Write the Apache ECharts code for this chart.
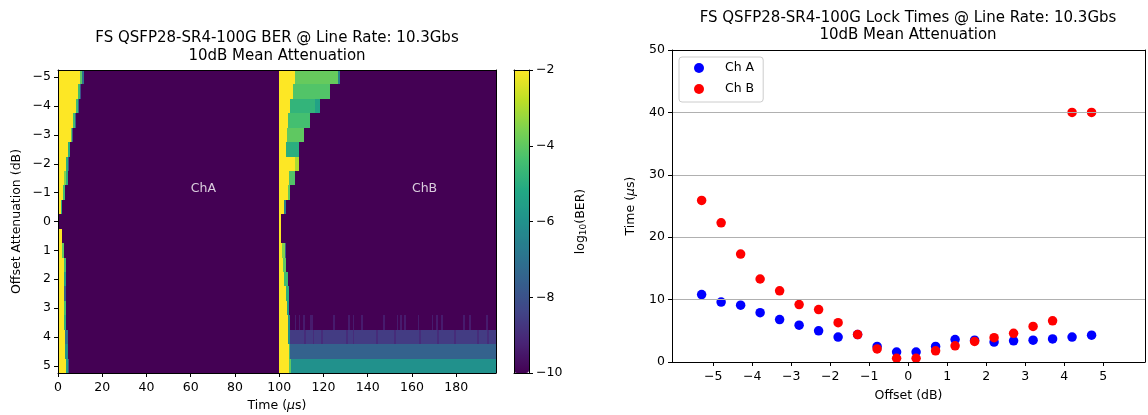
<!DOCTYPE html>
<html>
<head>
<meta charset="utf-8">
<script src="https://cdn.jsdelivr.net/npm/echarts@6/dist/echarts.min.js"></script>
<style>
  html, body { margin: 0; padding: 0; background: #fff; }
  #chart { width: 1148px; height: 415px; }
</style>
</head>
<body>
<div id="chart"></div>
<script>
// rows of the BER map (offset attenuation, dB)
const offsets = [-5, -4.5, -4, -3.5, -3, -2.5, -2, -1.5, -1, -0.5, 0, 0.5, 1, 1.5, 2, 2.5, 3, 3.5, 4, 4.5, 5]
const offsetTicks = [-5, -4, -3, -2, -1, 0, 1, 2, 3, 4, 5]
const timeTicks = [0, 20, 40, 60, 80, 100, 120, 140, 160, 180]

// ChA runs per row, starting at t=0: [end time (us), log10(BER)]
const chARuns = [
  [[9.8, -2], [10.7, -4], [11.6, -7], [100, -10]],
  [[8.9, -2], [9.8, -4.5], [10.5, -8], [100, -10]],
  [[8.0, -2], [8.9, -4.5], [9.5, -7.5], [100, -10]],
  [[6.9, -2], [7.7, -4.5], [8.3, -7.5], [100, -10]],
  [[5.7, -2], [6.4, -4], [6.9, -8], [100, -10]],
  [[4.7, -2], [5.6, -5], [100, -10]],
  [[3.6, -2], [4.3, -5], [4.9, -8], [100, -10]],
  [[2.5, -2], [3.4, -3.5], [4.3, -5], [100, -10]],
  [[2.1, -2], [3.2, -4.5], [100, -10]],
  [[1.3, -2], [1.9, -5], [100, -10]],
  [[0.6, -2], [100, -10]],
  [[1.6, -2], [100, -10]],
  [[1.9, -2], [2.8, -4], [100, -10]],
  [[2.5, -2], [3.7, -4.5], [100, -10]],
  [[2.5, -2], [3.5, -5.5], [100, -10]],
  [[2.5, -2], [3.6, -7.5], [100, -10]],
  [[2.5, -2], [3.6, -4.5], [100, -10]],
  [[2.8, -2], [3.6, -5], [100, -10]],
  [[3.1, -2], [4.3, -7], [100, -10]],
  [[3.3, -2], [4.3, -6], [100, -10]],
  [[3.4, -2], [4.3, -5.5], [5.1, -8], [100, -10]]
]

// ChB runs per row, starting at t=100
const chBRuns = [
  [[107.1, -2], [126.4, -3.9], [127.4, -6.5], [198, -10]],
  [[106.3, -2], [122.9, -4.2], [198, -10]],
  [[105.0, -2], [116.0, -4.8], [118.4, -5.4], [198, -10]],
  [[104.1, -2], [113.9, -4.4], [198, -10]],
  [[103.3, -2], [111.0, -4.0], [198, -10]],
  [[103.2, -2], [109.1, -5.0], [198, -10]],
  [[107.1, -2], [109.1, -3.0], [198, -10]],
  [[104.5, -2], [107.1, -4.2], [198, -10]],
  [[103.8, -2], [105.0, -4.0], [198, -10]],
  [[102.0, -2], [103.2, -6.5], [198, -10]],
  [[100.6, -2], [198, -10]],
  [[100.9, -2], [198, -10]],
  [[101.3, -2], [102.4, -3.5], [103.0, -7.5], [198, -10]],
  [[101.9, -2], [103.0, -4.0], [198, -10]],
  [[102.3, -2], [103.8, -4.5], [198, -10]],
  [[103.0, -2], [104.2, -5.0], [198, -10]],
  [[103.6, -2], [104.5, -5.5], [198, -10]],
  [[103.8, -2], [104.8, -6.0], [198, -10]],
  [[104.0, -2], [105.1, -6.0], [198, -8.6]],
  [[104.2, -2], [105.1, -4.5], [198, -7.5]],
  [[104.3, -2], [105.5, -4.0], [198, -6.0]]
]

// flicker in ChB rows 3.5 and 4: [offset, from, to, log10(BER)]
const chBFlicker = [
  [3.5, 107.1, 107.8, -9.4], [3.5, 108.8, 109.6, -9.4], [3.5, 110.9, 111.7, -9.4], [3.5, 114.0, 115.3, -9.4],
  [3.5, 124.2, 125.0, -9.4], [3.5, 131.1, 131.9, -9.4], [3.5, 133.2, 134.0, -9.4], [3.5, 137.0, 137.8, -9.4],
  [3.5, 146.8, 147.6, -9.4], [3.5, 153.1, 153.9, -9.4], [3.5, 154.6, 155.4, -9.4], [3.5, 156.6, 157.4, -9.4],
  [3.5, 162.6, 163.4, -9.4], [3.5, 168.9, 169.7, -9.4], [3.5, 170.9, 171.7, -9.4], [3.5, 173.2, 174.0, -9.4],
  [3.5, 183.0, 183.8, -9.4], [3.5, 185.7, 186.5, -9.4], [3.5, 193.6, 194.4, -9.4],
  [4, 111.4, 112.2, -9.0], [4, 115.1, 115.9, -9.0], [4, 118.9, 119.7, -9.0], [4, 130.2, 131.0, -9.0],
  [4, 133.2, 134.0, -9.0], [4, 143.8, 144.6, -9.0], [4, 152.1, 152.9, -9.0], [4, 163.2, 164.0, -9.0],
  [4, 171.5, 172.3, -9.0], [4, 179.0, 179.8, -9.0], [4, 189.5, 190.3, -9.0], [4, 194.1, 194.9, -9.0]
]
const channelLabels = [[60, -1, 'ChA'], [160, -1, 'ChB']]

// lock times
const lockOffsets = [-5.3, -4.8, -4.3, -3.8, -3.3, -2.8, -2.3, -1.8, -1.3, -0.8, -0.3, 0.2, 0.7, 1.2, 1.7, 2.2, 2.7, 3.2, 3.7, 4.2, 4.7]
const chATime = [10.8, 9.6, 9.1, 7.9, 6.8, 5.9, 5.0, 4.0, 4.4, 2.5, 1.6, 1.6, 2.5, 3.6, 3.5, 3.2, 3.4, 3.5, 3.7, 4.0, 4.3]
const chBTime = [25.9, 22.3, 17.3, 13.3, 11.4, 9.2, 8.4, 6.3, 4.4, 2.1, 0.6, 0.6, 1.8, 2.6, 3.3, 3.9, 4.6, 5.7, 6.6, 40, 40]
const lockXTicks = [-5, -4, -3, -2, -1, 0, 1, 2, 3, 4, 5]

const viridis = ['#440154', '#482475', '#414487', '#355f8d', '#2a788e', '#21918c', '#22a884', '#44bf70', '#7ad151', '#bddf26', '#fde725']
const font = 'DejaVu Sans'

function toSegments(runs, start) {
  const out = []
  runs.forEach((row, i) => {
    let x0 = start
    row.forEach(([x1, level]) => {
      out.push([offsets[i], x0, x1, level])
      x0 = x1
    })
  })
  return out
}

const minus = (v) => (v < 0 ? '\u2212' + Math.abs(v) : String(v))
const txt = { color: '#000', fontSize: 12.5, fontFamily: font }
const nameStyle = { ...txt, rich: { i: { ...txt, fontStyle: 'italic' }, s: { ...txt, fontSize: 9, verticalAlign: 'bottom', padding: [5, 0, 0, 0] } } }
const line = { show: true, onZero: false, lineStyle: { color: '#000', width: 1 } }
const tick = { show: true, length: 4, lineStyle: { color: '#000', width: 1 } }

// frame-only axis (spine)
function spine(gridIndex, position, min, max) {
  return {
    gridIndex, position, type: 'value', min, max, z: 10,
    axisLine: line, axisTick: { show: false }, axisLabel: { show: false }, splitLine: { show: false }
  }
}

// one run of a row, snapped to whole pixels so rows meet without seams
function renderCell(params, api) {
  const a = api.coord([api.value(1), api.value(0) - 0.25])
  const b = api.coord([api.value(2), api.value(0) + 0.25])
  const x0 = Math.round(a[0])
  const x1 = Math.round(b[0])
  const y0 = Math.round(Math.min(a[1], b[1]))
  const y1 = Math.round(Math.max(a[1], b[1]))
  return {
    type: 'rect',
    shape: { x: x0, y: y0, width: Math.max(x1 - x0, 1), height: y1 - y0 },
    style: { fill: api.visual('color') }
  }
}

const chart = echarts.init(document.getElementById('chart'), null, { renderer: 'canvas' })

const option = {
  animation: false,
  backgroundColor: '#fff',
  textStyle: { fontFamily: font },
  graphic: [
    { type: 'text', x: 277, y: 29, style: { text: 'FS QSFP28-SR4-100G BER @ Line Rate: 10.3Gbs\n10dB Mean Attenuation', align: 'center', verticalAlign: 'top', fontSize: 15, lineHeight: 18, fontFamily: font, fill: '#000' } },
    { type: 'text', x: 908, y: 9, style: { text: 'FS QSFP28-SR4-100G Lock Times @ Line Rate: 10.3Gbs\n10dB Mean Attenuation', align: 'center', verticalAlign: 'top', fontSize: 15, lineHeight: 17.5, fontFamily: font, fill: '#000' } }
  ],
  grid: [
    { left: 58, top: 70, width: 438, height: 303, outerBoundsMode: 'none' },
    { left: 514, top: 70, width: 15, height: 303, outerBoundsMode: 'none' },
    { left: 672, top: 50, width: 473, height: 312, outerBoundsMode: 'none' }
  ],
  xAxis: [
    {
      gridIndex: 0, type: 'value', min: 0, max: 198, position: 'bottom', z: 10,
      axisLine: line, axisTick: { ...tick, customValues: timeTicks },
      axisLabel: { ...txt, margin: 8, customValues: timeTicks, formatter: minus },
      splitLine: { show: false },
      name: 'Time ({i|\u03bc}s)', nameLocation: 'middle', nameGap: 25, nameTextStyle: nameStyle
    },
    spine(0, 'top', 0, 198),
    spine(1, 'bottom', 0, 1),
    spine(1, 'top', 0, 1),
    {
      gridIndex: 2, type: 'value', min: -6.06, max: 6.07, position: 'bottom', z: 10,
      axisLine: line, axisTick: { ...tick, customValues: lockXTicks },
      axisLabel: { ...txt, margin: 8, customValues: lockXTicks, formatter: minus },
      splitLine: { show: false },
      name: 'Offset (dB)', nameLocation: 'middle', nameGap: 27, nameTextStyle: nameStyle
    },
    spine(2, 'top', -6.06, 6.07)
  ],
  yAxis: [
    {
      gridIndex: 0, type: 'value', inverse: true, min: -5.25, max: 5.25, position: 'left', z: 10,
      axisLine: line, axisTick: { ...tick, customValues: offsetTicks },
      axisLabel: { ...txt, margin: 7, customValues: offsetTicks, formatter: minus },
      splitLine: { show: false },
      name: 'Offset Attenuation (dB)', nameLocation: 'middle', nameRotate: 90, nameGap: 35, nameTextStyle: nameStyle
    },
    spine(0, 'right', -5.25, 5.25),
    spine(1, 'left', -10, -2),
    {
      gridIndex: 1, type: 'value', min: -10, max: -2, interval: 2, position: 'right', z: 10,
      axisLine: line, axisTick: tick,
      axisLabel: { ...txt, margin: 7, formatter: minus },
      splitLine: { show: false },
      name: 'log{s|10}(BER)', nameLocation: 'middle', nameRotate: 90, nameGap: 45, nameTextStyle: nameStyle
    },
    {
      gridIndex: 2, type: 'value', min: 0, max: 50, interval: 10, position: 'left', z: 10,
      axisLine: line, axisTick: tick,
      axisLabel: { ...txt, margin: 7 },
      splitLine: { show: true, showMinLine: false, showMaxLine: false, lineStyle: { color: '#b0b0b0', width: 1 } },
      name: 'Time ({i|\u03bc}s)', nameLocation: 'middle', nameRotate: 90, nameGap: 35, nameTextStyle: nameStyle
    },
    spine(2, 'right', 0, 50)
  ],
  visualMap: {
    type: 'continuous', min: -10, max: -2, dimension: 3, seriesIndex: [0, 1, 2],
    calculable: false, left: 514, top: 70, itemWidth: 15, itemHeight: 303, padding: 0,
    text: null, inRange: { color: viridis }, hoverLink: false
  },
  legend: {
    data: ['Ch A', 'Ch B'], orient: 'vertical', left: 679, top: 57,
    icon: 'circle', itemWidth: 10, itemHeight: 10, itemGap: 6,
    padding: [3.5, 9, 5.5, 15],
    borderColor: '#cccccc', borderWidth: 1, borderRadius: 3, backgroundColor: 'rgba(255,255,255,0.8)',
    textStyle: { ...txt, lineHeight: 15, rich: { t: { ...txt, lineHeight: 15, padding: [0, 0, 0, 16] } } },
    formatter: (name) => '{t|' + name + '}',
    selectedMode: false
  },
  series: [
    { name: 'ChA map', type: 'custom', xAxisIndex: 0, yAxisIndex: 0, clip: true, renderItem: renderCell, encode: { x: [1, 2], y: 0 }, data: toSegments(chARuns, 0) },
    { name: 'ChB map', type: 'custom', xAxisIndex: 0, yAxisIndex: 0, clip: true, renderItem: renderCell, encode: { x: [1, 2], y: 0 }, data: toSegments(chBRuns, 100) },
    { name: 'ChB flicker', type: 'custom', xAxisIndex: 0, yAxisIndex: 0, clip: true, renderItem: renderCell, encode: { x: [1, 2], y: 0 }, data: chBFlicker },
    {
      name: 'labels', type: 'scatter', xAxisIndex: 0, yAxisIndex: 0, symbolSize: 0, z: 5,
      data: channelLabels,
      label: { show: true, position: [0, 0], align: 'left', verticalAlign: 'bottom', offset: [0, 3], color: '#fff', fontSize: 12.5, fontFamily: font, formatter: (p) => p.data[2] }
    },
    {
      name: 'Ch A', type: 'scatter', xAxisIndex: 4, yAxisIndex: 4, symbolSize: 9.5,
      itemStyle: { color: '#0000ff', opacity: 1 },
      data: lockOffsets.map((x, i) => [x, chATime[i]])
    },
    {
      name: 'Ch B', type: 'scatter', xAxisIndex: 4, yAxisIndex: 4, symbolSize: 9.5,
      itemStyle: { color: '#ff0000', opacity: 1 },
      data: lockOffsets.map((x, i) => [x, chBTime[i]])
    }
  ]
}

chart.setOption(option)
window.addEventListener('resize', function () {
  chart.resize()
})
</script>
</body>
</html>
